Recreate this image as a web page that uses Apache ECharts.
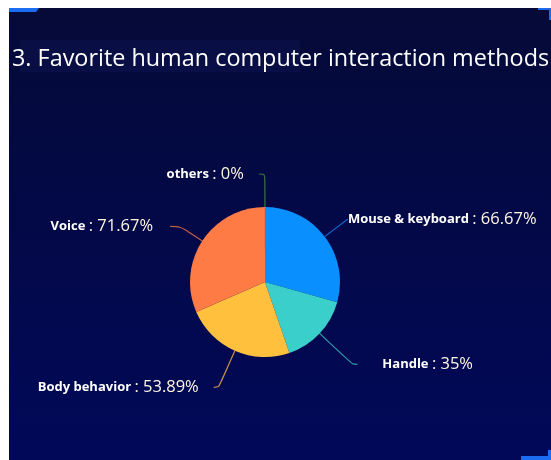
<!DOCTYPE html>
<html>
<head>
<meta charset="utf-8">
<script src="https://cdn.jsdelivr.net/npm/echarts@6/dist/echarts.min.js"></script>
<style>
html,body{margin:0;padding:0;background:#ffffff;}
#chart{position:absolute;left:9px;top:8px;width:542px;height:452px;}
</style>
</head>
<body>
<div id="chart"></div>
<script>
const titleText = '3. Favorite human computer interaction methods';
const categories = ['Mouse & keyboard', 'Handle', 'Body behavior', 'Voice', 'others'];
const values = [66.67, 35, 53.89, 71.67, 0];
const colors = ['#0a8fff', '#3bcfcb', '#ffc13d', '#ff7b45', '#4c9a3a'];
// label-line styling per slice (length, length2, gap to text)
const lineLen = [28, 45, 40, 26.5, 33];
const lineLen2 = [1, 5, 5, 10, 6];
const textGap = [0, 25, 15, 17, 15];

const chart = echarts.init(document.getElementById('chart'), null, {renderer: 'canvas'});
const fontFam = '"Open Sans", "Noto Sans", sans-serif';

const option = {
  backgroundColor: {
    type: 'linear', x: 0, y: 0, x2: 0, y2: 1,
    colorStops: [{offset: 0, color: '#050a38'}, {offset: 1, color: '#010858'}]
  },
  title: {
    text: titleText,
    left: -2, top: 35,
    textStyle: {color: '#ffffff', fontSize: 23.4, fontWeight: 'normal', fontFamily: fontFam}
  },
  color: colors,
  graphic: [
    {type: 'rect', left: 11, top: 32, shape: {width: 280, height: 32}, style: {fill: 'rgba(40,60,140,0.12)'}, z: -1},
    {type: 'polygon', shape: {points: [[0,0],[30,0],[27,4],[0,4]]}, style: {fill: '#1b6cf0'}},
    {type: 'rect', right: 0, top: 0, shape: {width: 13, height: 2}, style: {fill: '#1b6cf0'}},
    {type: 'rect', right: 0, top: 0, shape: {width: 2, height: 12}, style: {fill: '#1b6cf0'}},
    {type: 'rect', right: 0, bottom: 0, shape: {width: 30, height: 4}, style: {fill: '#1b6cf0'}},
    {type: 'rect', right: 0, bottom: 0, shape: {width: 3, height: 10}, style: {fill: '#1b6cf0'}}
  ],
  series: [{
    type: 'pie',
    center: [256, 274],
    radius: [0, 75],
    startAngle: 90.05,
    clockwise: true,
    avoidLabelOverlap: false,
    data: categories.map((c, i) => ({
      name: c, value: values[i],
      label: {distanceToLabelLine: textGap[i]},
      labelLine: {length: lineLen[i], length2: lineLen2[i]}
    })),
    label: {
      show: true,
      formatter: p => '{n|' + p.name + '} {v|: ' + p.value + '%}',
      rich: {
        n: {color: '#ffffff', fontSize: 13, fontFamily: fontFam, fontWeight: 'bold'},
        v: {color: '#fff6e0', fontSize: 16.5, fontFamily: fontFam}
      }
    },
    labelLine: {
      show: true, smooth: 0.3,
      lineStyle: {width: 1.2, opacity: 0.75}
    },
    itemStyle: {borderWidth: 0}
  }]
};
chart.setOption(option);
</script>
</body>
</html>
